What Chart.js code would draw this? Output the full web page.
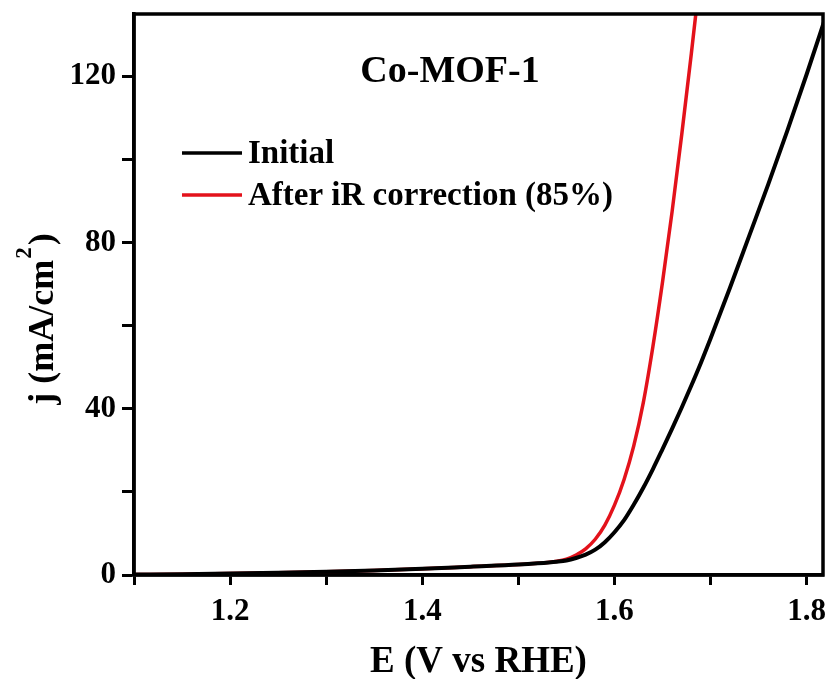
<!DOCTYPE html>
<html><head><meta charset="utf-8">
<script src="https://cdn.jsdelivr.net/npm/chart.js@4"></script>
<style>html,body{margin:0;padding:0;background:#fff}#wrap{width:829px;height:679px}</style>
</head><body><div id="wrap"><canvas id="c" width="829" height="679"></canvas></div>
<script>
// ---- data ----
const initialE = [1.10,1.15,1.20,1.25,1.30,1.35,1.40,1.45,1.50,1.52,1.54,1.55,1.56,1.57,1.58,1.59,1.60,1.61,1.62,1.63,1.64,1.65,1.66,1.67,1.68,1.69,1.70,1.72,1.74,1.76,1.78,1.80,1.82];
const initialJ = [0.1,0.2,0.35,0.55,0.8,1.1,1.5,2.0,2.5,2.8,3.2,3.5,4.1,4.9,6.1,7.9,10.3,13.2,16.9,21.0,25.5,30.3,35.2,40.3,45.6,51.1,56.9,69.0,81.5,94.0,107.0,120.5,134.5];
const correctedE = [1.10,1.15,1.20,1.25,1.30,1.35,1.40,1.45,1.50,1.52,1.54,1.55,1.56,1.57,1.58,1.59,1.60,1.61,1.62,1.63,1.64,1.65,1.66,1.67,1.68,1.69];
const correctedJ = [0.1,0.2,0.35,0.55,0.8,1.1,1.5,2.0,2.5,2.8,3.3,3.8,4.8,6.3,8.6,12.0,16.8,23.0,31.0,41.5,55.0,70.5,87.5,106.0,125.5,146.0];
const seriesNames = ['Initial','After iR correction (85%)'];
const xTickLabels = ['1.2','1.4','1.6','1.8'];
const yTickLabels = ['0','40','80','120'];
const chartTitle = 'Co-MOF-1';
const xAxisTitle = 'E (V vs RHE)';
const yAxisTitleParts = ['j (mA/cm', '2', ')'];

const FONT = '"Liberation Serif","Times New Roman",serif';

const toPts = (xs, ys) => xs.map((x, i) => ({x: x, y: ys[i]}));

const framePlugin = {
  id: 'frame',
  afterDraw(chart) {
    const {ctx, chartArea: a} = chart;
    ctx.save();
    ctx.strokeStyle = '#000';
    ctx.lineWidth = 3.5;
    ctx.strokeRect(a.left, a.top, a.right - a.left, a.bottom - a.top);
    // title inside plot
    ctx.fillStyle = '#000';
    ctx.font = 'bold 38px ' + FONT;
    ctx.textAlign = 'center';
    ctx.textBaseline = 'alphabetic';
    ctx.fillText(chartTitle, a.left + 316, a.top + 68);
    // legend inside plot
    ctx.font = 'bold 33px ' + FONT;
    ctx.textAlign = 'left';
    chart.data.datasets.forEach((ds, i) => {
      const yLine = a.top + 139 + i * 42;
      ctx.strokeStyle = ds.borderColor;
      ctx.lineWidth = 3.5;
      ctx.beginPath();
      ctx.moveTo(a.left + 48, yLine);
      ctx.lineTo(a.left + 108, yLine);
      ctx.stroke();
      ctx.fillText(ds.label, a.left + 114, yLine + 10);
    });
    // y axis title (rotated, with superscript)
    const mainF = 'bold 36px ' + FONT, supF = 'bold 23px ' + FONT;
    ctx.font = mainF; const w0 = ctx.measureText(yAxisTitleParts[0]).width;
    ctx.font = supF;  const w1 = ctx.measureText(yAxisTitleParts[1]).width + 3;
    ctx.font = mainF; const w2 = ctx.measureText(yAxisTitleParts[2]).width;
    const total = w0 + w1 + w2;
    ctx.translate(53, 319);
    ctx.rotate(-Math.PI / 2);
    let x0 = -total / 2;
    ctx.textAlign = 'left';
    ctx.font = mainF; ctx.fillText(yAxisTitleParts[0], x0, 0);
    ctx.font = supF;  ctx.fillText(yAxisTitleParts[1], x0 + w0 + 1, -22);
    ctx.font = mainF; ctx.fillText(yAxisTitleParts[2], x0 + w0 + w1, 0);
    ctx.restore();
  }
};

new Chart(document.getElementById('c'), {
  type: 'line',
  data: {
    datasets: [
      {label: seriesNames[0], data: toPts(initialE, initialJ), borderColor: '#000000', borderWidth: 4, pointRadius: 0, cubicInterpolationMode: 'monotone', order: 1},
      {label: seriesNames[1], data: toPts(correctedE, correctedJ), borderColor: '#e3121b', borderWidth: 3.5, pointRadius: 0, cubicInterpolationMode: 'monotone', order: 2}
    ]
  },
  options: {
    responsive: false,
    devicePixelRatio: 1,
    animation: false,
    layout: {padding: {top: 14, right: 6, left: 0, bottom: 0}},
    plugins: {legend: {display: false}, tooltip: {enabled: false}, title: {display: false}},
    scales: {
      x: {
        type: 'linear', min: 1.1, max: 1.817,
        afterFit(s) { s.height = 104; s.paddingLeft = 0; s.paddingRight = 0; },
        border: {display: true, color: '#000', width: 3.5},
        grid: {display: true, drawOnChartArea: false, drawTicks: true, tickLength: 10, tickWidth: 3, tickColor: '#000'},
        ticks: {
          stepSize: 0.1, includeBounds: false, autoSkip: false, maxRotation: 0, padding: 8,
          color: '#000', font: {family: FONT, size: 31, weight: 'bold'},
          callback(v) { const s = Number(v).toFixed(1); return xTickLabels.includes(s) ? s : ''; }
        },
        title: {display: true, text: xAxisTitle, color: '#000', font: {family: FONT, size: 37, weight: 'bold'}, padding: {top: 0, bottom: -6}}
      },
      y: {
        type: 'linear', min: 0, max: 135,
        afterFit(s) { s.width = 134; s.paddingTop = 0; s.paddingBottom = 0; },
        border: {display: true, color: '#000', width: 3.5},
        grid: {display: true, drawOnChartArea: false, drawTicks: true, tickLength: 12, tickWidth: 3, tickColor: '#000'},
        ticks: {
          stepSize: 20, includeBounds: false, autoSkip: false, padding: 6,
          color: '#000', font: {family: FONT, size: 31, weight: 'bold'},
          callback(v) { const s = String(Math.round(v)); return yTickLabels.includes(s) ? s : ''; }
        },
        title: {display: false}
      }
    }
  },
  plugins: [framePlugin]
});
</script>
</body></html>
